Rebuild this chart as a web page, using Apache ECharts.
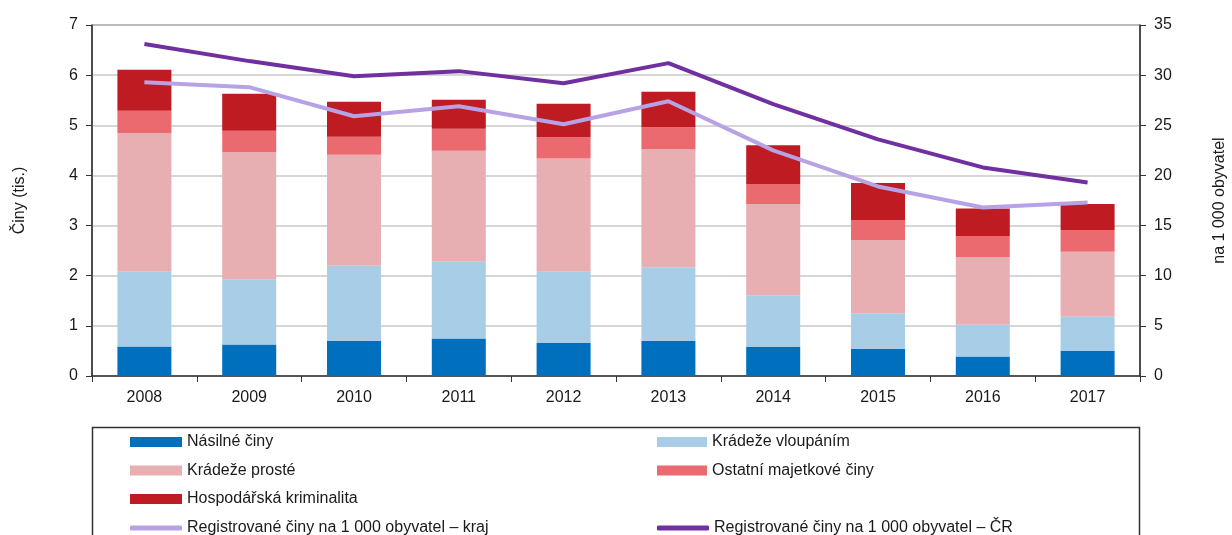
<!DOCTYPE html>
<html>
<head>
<meta charset="utf-8">
<script src="https://cdn.jsdelivr.net/npm/echarts@6/dist/echarts.min.js"></script>
<style>
  html, body { margin: 0; padding: 0; background: #fff; }
  #chart { width: 1232px; height: 535px; }
</style>
</head>
<body>
<div id="chart"></div>
<script>
// 数据
var years = ['2008', '2009', '2010', '2011', '2012', '2013', '2014', '2015', '2016', '2017'];
var nasilne = [0.59, 0.63, 0.70, 0.75, 0.66, 0.70, 0.58, 0.54, 0.39, 0.50];
var vloupani = [1.49, 1.30, 1.50, 1.53, 1.42, 1.47, 1.03, 0.71, 0.63, 0.68];
var proste = [2.76, 2.53, 2.21, 2.21, 2.26, 2.35, 1.82, 1.46, 1.35, 1.30];
var ostatni = [0.45, 0.43, 0.36, 0.44, 0.42, 0.44, 0.40, 0.40, 0.42, 0.43];
var hospodarska = [0.82, 0.74, 0.70, 0.58, 0.67, 0.71, 0.77, 0.74, 0.55, 0.52];
var kraj = [29.3, 28.8, 25.9, 26.9, 25.1, 27.4, 22.5, 18.9, 16.8, 17.3];
var cr = [33.1, 31.4, 29.9, 30.4, 29.2, 31.2, 27.1, 23.6, 20.8, 19.3];

var font = '"Liberation Sans", Arial, sans-serif';
var textCol = '#1a1a1a';

(function () {
  var myChart = echarts.init(document.getElementById('chart'));

  function bar(name, data, color) {
    return {
      name: name,
      type: 'bar',
      stack: 'ciny',
      barWidth: 54,
      data: data,
      itemStyle: { color: color }
    };
  }
  function line(name, data, color) {
    return {
      name: name,
      type: 'line',
      yAxisIndex: 1,
      data: data,
      symbol: 'none',
      z: 5,
      lineStyle: { color: color, width: 4 },
      itemStyle: { color: color }
    };
  }

  var legendText = { color: textCol, fontSize: 16, fontFamily: font };
  // 线条图例
  function lineLegend(left, top, name) {
    return {
      orient: 'vertical',
      left: left,
      top: top,
      itemWidth: 52,
      itemHeight: 5,
      textStyle: legendText,
      data: [{ name: name, icon: 'roundRect' }]
    };
  }

  var option = {
    animation: false,
    textStyle: { fontFamily: font },
    grid: {
      left: 92,
      right: 92,
      top: 25,
      bottom: 159,
      outerBoundsMode: 'none',
      show: true,
      borderColor: '#333',
      borderWidth: 1
    },
    // 图例外框
    graphic: [{
      type: 'rect',
      shape: { x: 92.5, y: 427.5, width: 1047, height: 130 },
      style: { fill: 'none', stroke: '#333', lineWidth: 1.5 },
      silent: true
    }],
    legend: [
      {
        orient: 'vertical',
        left: 125,
        top: 429,
        itemWidth: 52,
        itemHeight: 10,
        itemGap: 12.5,
        textStyle: legendText,
        data: [
          { name: 'Násilné činy', icon: 'rect' },
          { name: 'Krádeže prosté', icon: 'rect' },
          { name: 'Hospodářská kriminalita', icon: 'rect' }
        ]
      },
      {
        orient: 'vertical',
        left: 652,
        top: 429,
        itemWidth: 50,
        itemHeight: 10,
        itemGap: 12.5,
        textStyle: legendText,
        data: [
          { name: 'Krádeže vloupáním', icon: 'rect' },
          { name: 'Ostatní majetkové činy', icon: 'rect' }
        ]
      },
      lineLegend(125, 515, 'Registrované činy na 1 000 obyvatel – kraj'),
      lineLegend(652, 515, 'Registrované činy na 1 000 obyvatel – ČR')
    ],
    xAxis: {
      type: 'category',
      data: years,
      axisLine: { lineStyle: { color: '#333', width: 1.5 } },
      axisTick: { show: true, length: 6, lineStyle: { color: '#333' } },
      axisLabel: { color: textCol, fontSize: 16, margin: 14 }
    },
    yAxis: [
      {
        type: 'value',
        min: 0,
        max: 7,
        interval: 1,
        name: 'Činy (tis.)',
        nameLocation: 'middle',
        nameRotate: 90,
        nameGap: 64,
        nameTextStyle: { color: textCol, fontSize: 16 },
        axisLine: { show: true, lineStyle: { color: '#333', width: 1.5 } },
        axisTick: { show: true, length: 6, lineStyle: { color: '#333' } },
        axisLabel: { color: textCol, fontSize: 16, margin: 14 },
        splitLine: { lineStyle: { color: '#c8c8c8', width: 1.5 } }
      },
      {
        type: 'value',
        min: 0,
        max: 35,
        interval: 5,
        name: 'na 1 000 obyvatel',
        nameLocation: 'middle',
        nameRotate: 90,
        nameGap: 72,
        nameTextStyle: { color: textCol, fontSize: 16 },
        axisLine: { show: true, lineStyle: { color: '#333', width: 1.5 } },
        axisTick: { show: true, length: 6, lineStyle: { color: '#333' } },
        axisLabel: { color: textCol, fontSize: 16, margin: 14 },
        splitLine: { show: false }
      }
    ],
    series: [
      bar('Násilné činy', nasilne, '#0070BE'),
      bar('Krádeže vloupáním', vloupani, '#A8CDE6'),
      bar('Krádeže prosté', proste, '#E7AFB2'),
      bar('Ostatní majetkové činy', ostatni, '#EA6A6F'),
      bar('Hospodářská kriminalita', hospodarska, '#BE1B22'),
      line('Registrované činy na 1 000 obyvatel – kraj', kraj, '#B7A2E5'),
      line('Registrované činy na 1 000 obyvatel – ČR', cr, '#7030A0')
    ]
  };

  myChart.setOption(option);
})();
</script>
</body>
</html>
